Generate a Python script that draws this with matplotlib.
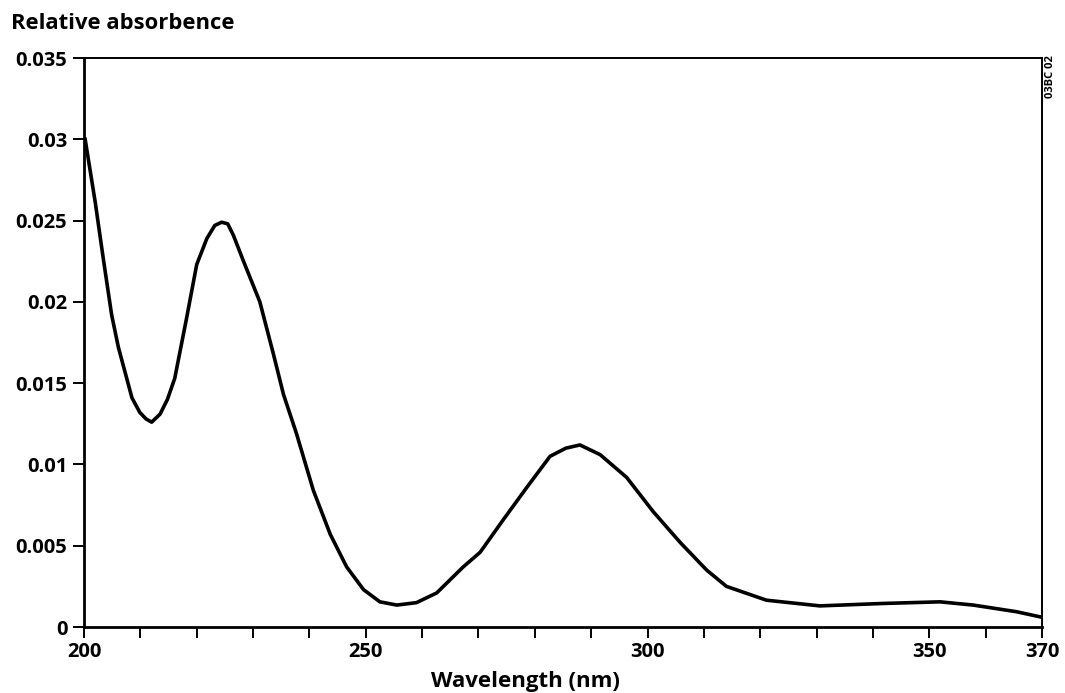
import numpy as np
import matplotlib.pyplot as plt

# absorbance spectrum
wavelength = [200.2, 202.0, 203.4, 204.9, 206.1, 208.5, 209.9, 211.0, 212.0, 213.5, 214.8, 216.1,
              218.2, 220.0, 221.8, 223.2, 224.4, 225.5, 226.5, 228.3, 231.2, 233.6,
              235.4, 237.7, 240.7, 243.7, 246.6, 249.6, 252.5, 255.5, 259.0, 262.6,
              267.3, 270.3, 274.4, 278.6, 282.7, 285.5, 288.0, 291.6, 296.3, 301.0,
              305.8, 310.5, 314.0, 321.1, 330.6, 341.8, 351.9, 357.8, 365.5, 370.0]
absorbance = [0.0300, 0.0261, 0.0227, 0.0192, 0.0172, 0.0141, 0.0132, 0.0128, 0.0126, 0.0131, 0.0140, 0.0153,
              0.0190, 0.0223, 0.0239, 0.0247, 0.0249, 0.0248, 0.0241, 0.0225, 0.0200, 0.0168,
              0.0143, 0.0119, 0.0084, 0.0057, 0.0037, 0.0023, 0.00155, 0.00135, 0.0015, 0.0021,
              0.0037, 0.0046, 0.0066, 0.0086, 0.0105, 0.0110, 0.0112, 0.0106, 0.0092, 0.0071,
              0.0052, 0.0035, 0.0025, 0.00165, 0.0013, 0.00145, 0.00155, 0.00135, 0.00094, 0.0006]

xticks = [200, 250, 300, 350, 370]
minor_x = np.arange(200, 371, 10)
yticks = [0, 0.005, 0.01, 0.015, 0.02, 0.025, 0.03, 0.035]
ylabels = ['0', '0.005', '0.01', '0.015', '0.02', '0.025', '0.03', '0.035']

plt.rcParams['font.family'] = ['Open Sans', 'DejaVu Sans']
plt.rcParams['font.weight'] = 'bold'

fig = plt.figure(figsize=(10.65, 6.93), dpi=100)
ax = fig.add_axes([0.0789, 0.0952, 0.8995, 0.8211])

ax.plot(wavelength, absorbance, color='black', lw=2.6, solid_joinstyle='round')

ax.set_xlim(200, 370)
ax.set_ylim(0, 0.035)
ax.set_xticks(xticks)
ax.set_xticks(minor_x, minor=True)
ax.set_xticklabels([str(t) for t in xticks])
ax.set_yticks(yticks)
ax.set_yticklabels(ylabels)

for s in ['left', 'bottom']:
    ax.spines[s].set_linewidth(2.0)
for s in ['top', 'right']:
    ax.spines[s].set_linewidth(1.4)

ax.tick_params(axis='both', which='both', direction='out', length=8, width=1.4,
               labelsize=14.5, colors='black')
ax.tick_params(axis='x', which='minor', labelbottom=False)
ax.tick_params(axis='x', pad=3)
ax.tick_params(axis='y', pad=4)

# x label sits a bit left of the axis centre in the original
ax.set_xlabel('Wavelength (nm)', fontsize=16, fontweight='bold')
ax.xaxis.set_label_coords(0.461, -0.078)
fig.text(0.010, 0.966, 'Relative absorbence', fontsize=15.8, fontweight='bold',
         ha='left', va='center')
fig.text(0.986, 0.889, '03BC 02', fontsize=8, fontweight='bold', rotation=90,
         ha='center', va='center')

fig.savefig('out.png', dpi=100)
